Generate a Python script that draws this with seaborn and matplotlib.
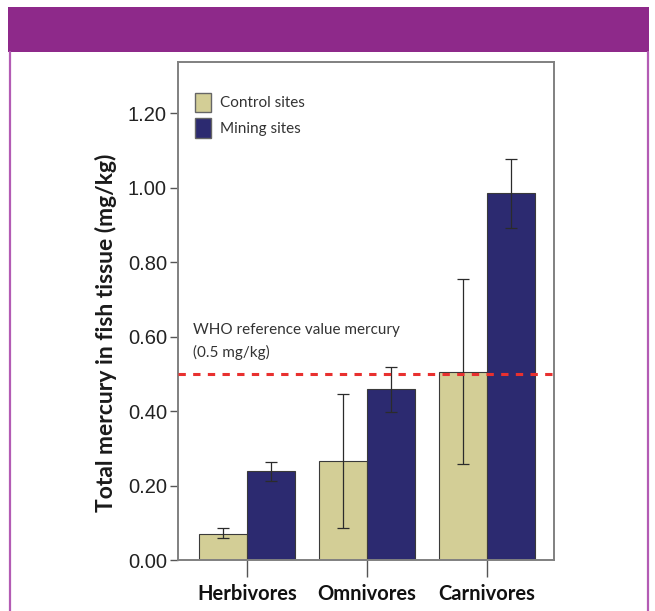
import matplotlib
matplotlib.use("Agg")
import matplotlib.pyplot as plt
from matplotlib.patches import Rectangle, Patch
from matplotlib.lines import Line2D
import seaborn as sns
import pandas as pd
import numpy as np

categories = ["Herbivores", "Omnivores", "Carnivores"]
groups = ["Control sites", "Mining sites"]
control_mean = [0.070, 0.267, 0.505]
mining_mean = [0.239, 0.459, 0.985]
control_low = [0.060, 0.087, 0.258]
control_high = [0.085, 0.446, 0.754]
mining_low = [0.212, 0.397, 0.891]
mining_high = [0.263, 0.518, 1.076]
who_value = 0.5
yticks = [0.0, 0.2, 0.4, 0.6, 0.8, 1.0, 1.2]

df = pd.DataFrame({
    "Diet": categories * 2,
    "Site": [groups[0]] * 3 + [groups[1]] * 3,
    "Hg": control_mean + mining_mean,
})

sns.set_style("white")
plt.rcParams["font.family"] = ["Liberation Sans", "DejaVu Sans"]

fig = plt.figure(figsize=(6.55, 6.11), dpi=100)
fig.patch.set_facecolor("white")

# purple header band and side borders
fig.patches.append(Rectangle((8 / 655, 1 - 52 / 611), 641 / 655, 45 / 611,
                             transform=fig.transFigure, facecolor="#8e298a",
                             edgecolor="none", zorder=0))
for xpx in (9.5, 648):
    fig.add_artist(Line2D([xpx / 655, xpx / 655], [0, 1 - 52 / 611],
                          transform=fig.transFigure, color="#b35cb4", lw=1.6))

ax = fig.add_axes([178 / 655, 1 - 560 / 611, 376 / 655, 498 / 611])

colors = {"Control sites": "#d3ce96", "Mining sites": "#2c2a70"}
sns.barplot(data=df, x="Diet", y="Hg", hue="Site", order=categories,
            hue_order=groups, palette=colors, errorbar=None, width=0.8,
            saturation=1, edgecolor="#3a3a3a", linewidth=0.8, ax=ax,
            legend=False, zorder=2)

# error bars, positioned from the drawn bars
bars = ax.patches
lows = control_low + mining_low
highs = control_high + mining_high
means = control_mean + mining_mean
for bar, m, lo, hi in zip(bars, means, lows, highs):
    xc = bar.get_x() + bar.get_width() / 2
    ax.errorbar(xc, m, yerr=[[m - lo], [hi - m]], fmt="none",
                ecolor="#2b2b2b", elinewidth=0.9, capsize=4.3,
                capthick=0.9, zorder=4)

ax.axhline(who_value, color="#e8302f", lw=2.2, dashes=(2.4, 2.4), zorder=5)

ax.set_ylim(0, 1.337)
ax.set_xlim(-0.575, 2.558)
ax.set_yticks(yticks)
ax.set_yticklabels([f"{v:.2f}" for v in yticks])
ax.set_xlabel("")
ax.set_ylabel("Total mercury in fish tissue (mg/kg)", fontsize=16.5,
              fontweight="bold", family="Lato", color="#1a1a1a")
ax.yaxis.set_label_coords(-0.163, 0.457)
ax.tick_params(axis="y", direction="out", length=6, width=1, color="#555555",
               labelsize=14.5, labelcolor="#222222", pad=2, left=True)
ax.tick_params(axis="x", direction="out", length=12, width=1, color="#555555",
               labelsize=14.5, pad=5, bottom=True)
for lab in ax.get_xticklabels():
    lab.set_fontfamily("Lato")
    lab.set_fontweight("bold")
    lab.set_color("#111111")
for sp in ax.spines.values():
    sp.set_visible(True)
    sp.set_color("#808080")
    sp.set_linewidth(1.4)

handles = [Patch(facecolor=colors[g], edgecolor="#666666", label=g) for g in groups]
leg = ax.legend(handles=handles, loc="upper left", bbox_to_anchor=(0.03, 0.951),
                frameon=False, prop={"family": "Lato", "size": 11},
                handlelength=1.0, handleheight=1.6, handletextpad=0.6,
                labelspacing=0.4, borderaxespad=0)
for t in leg.get_texts():
    t.set_color("#333333")

ax.text(193, 611 - 330, "WHO reference value mercury", transform=None,
        fontsize=11, family="Lato", color="#333333", va="center")
ax.text(193, 611 - 352, "(0.5 mg/kg)", transform=None, fontsize=11,
        family="Lato", color="#333333", va="center")

fig.savefig("out.png", dpi=100)
